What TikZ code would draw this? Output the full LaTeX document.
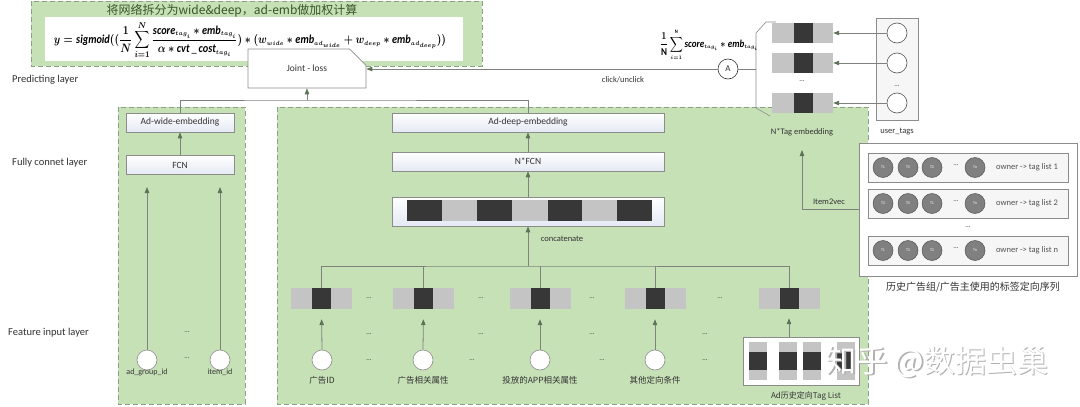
\documentclass[tikz,border=0pt]{standalone}
\usepackage{fontspec}
\setmainfont{Carlito}
\newfontfamily\cjk{Noto Sans CJK SC}
\usepackage{amsmath}
\usepackage{graphicx}
\usetikzlibrary{arrows.meta,shapes.misc,calc}
\definecolor{pgreen}{RGB}{199,225,183}
\definecolor{pborder}{RGB}{140,160,130}
\definecolor{boxgray}{RGB}{140,140,140}
\definecolor{boxbot}{RGB}{228,233,243}
\definecolor{lgray}{RGB}{196,196,196}
\definecolor{dgray}{RGB}{55,55,55}
\definecolor{linec}{RGB}{125,130,125}
\definecolor{arrowc}{RGB}{95,115,90}
\definecolor{txt}{RGB}{50,50,50}
\definecolor{ttitle}{RGB}{55,85,40}
\definecolor{tfill}{RGB}{128,128,128}
\definecolor{tdraw}{RGB}{85,85,85}
\definecolor{ubox}{RGB}{246,246,246}
\newcommand{\ssub}[1]{{\scriptscriptstyle #1}}
\tikzset{
  panel/.style={draw=pborder, fill=pgreen, dash pattern=on 5pt off 3pt, line width=0.9pt},
  wbox/.style={draw=boxgray, top color=white, bottom color=boxbot, inner sep=0pt, font=\fontsize{9.5}{11}\selectfont, text=txt, line width=0.6pt},
  conn/.style={draw=linec, line width=0.8pt},
  arr/.style={conn, -{Triangle[length=6pt,width=4.5pt,color=arrowc]}},
  wcirc/.style={circle, draw=boxgray, fill=white, minimum size=20pt, inner sep=0pt, line width=0.6pt},
  tcirc/.style={circle, draw=tdraw, fill=tfill, minimum size=20pt, inner sep=0pt, font=\fontsize{4}{4}\selectfont, text=white, line width=0.5pt},
  lbar/.style={fill=lgray, minimum width=61pt, minimum height=21pt, inner sep=0pt},
  dseg/.style={fill=dgray, minimum width=19pt, minimum height=21pt, inner sep=0pt},
  lab/.style={font=\fontsize{9}{10}\selectfont, text=txt, inner sep=1pt},
  clab/.style={font=\cjk\fontsize{8.5}{10}\selectfont, text=txt, inner sep=1pt},
  dots/.style={font=\fontsize{7}{7}\selectfont, text=txt, inner sep=0pt},
  layer/.style={font=\fontsize{10.5}{12}\selectfont, text=txt, anchor=west, inner sep=0pt}
}
\begin{document}
\begin{tikzpicture}[x=1pt,y=-1pt]
\useasboundingbox (0,0) rectangle (1080,407);
\fill[white] (0,0) rectangle (1080,407);

% ---------- panels ----------
\draw[panel] (31,1) rectangle (482,66);
\draw[panel] (118,107) rectangle (245,404);
\draw[panel] (277,107) rectangle (868,404);

% ---------- formula panel ----------
\node[font=\cjk\fontsize{12}{14}\selectfont, text=ttitle, inner sep=0pt] (title) at (232,11) {将网络拆分为wide\&deep，ad-emb做加权计算};
\node[fill=white, minimum width=418pt, minimum height=44pt, inner sep=0pt] (fbox) at (254,39) {};
\node[inner sep=0pt] (formula) at (250,40) {\resizebox*{392pt}{38pt}{\boldmath$\displaystyle y=\mathit{sigmoid}((\frac{1}{N}\sum_{i=1}^{N}\frac{\mathit{score}_{\ssub{tag_i}}*\mathit{emb}_{\ssub{tag_i}}}{\alpha*\mathit{cvt}\,\_\,\mathit{cost}_{\ssub{tag_i}}})*(w_{\ssub{wide}}*\mathit{emb}_{\ssub{ad_{wide}}}+w_{\ssub{deep}}*\mathit{emb}_{\ssub{ad_{deep}}}))$}};

% ---------- layer labels ----------
\node[layer] (lp) at (12,80) {Predicting layer};
\node[layer] (lf) at (12,163) {Fully connet layer};
\node[layer] (li) at (8,333) {Feature input layer};

% ---------- joint loss ----------
\node[chamfered rectangle, chamfered rectangle corners=north east, chamfered rectangle xsep=13pt, chamfered rectangle ysep=13pt,
      draw=boxgray, fill=white, minimum width=118pt, minimum height=39pt, inner sep=0pt, line width=0.6pt,
      font=\fontsize{9.5}{11}\selectfont, text=txt] (joint) at (307,68.5) {Joint - loss};

% ---------- wide part ----------
\node[wbox, minimum width=108pt, minimum height=19pt] (wemb) at (180,122.5) {Ad-wide-embedding};
\node[wbox, minimum width=108pt, minimum height=19pt] (wfcn) at (180,165) {FCN};
\draw[arr] (wfcn.north) -- (wemb.south);
\node[wcirc] (agid) at (147,360) {};
\node[wcirc] (itid) at (220,360) {};
\node[font=\fontsize{8}{9}\selectfont, text=txt, inner sep=0pt] (agidl) at (147,372) {ad\_group\_id};
\node[font=\fontsize{8}{9}\selectfont, text=txt, inner sep=0pt] (itidl) at (220,372) {item\_id};
\coordinate (wtop1) at (147,187);
\coordinate (wtop2) at (220,187);
\draw[arr] (agid.north) -- (wtop1);
\draw[arr] (itid.north) -- (wtop2);
\node[dots] (wd1) at (187,332) {...};
\node[dots] (wd2) at (187,358) {...};

% ---------- deep part ----------
\node[wbox, minimum width=272pt, minimum height=19pt] (demb) at (528,122.5) {Ad-deep-embedding};
\node[wbox, minimum width=272pt, minimum height=19pt] (dfcn) at (528,161.5) {N*FCN};
\node[wbox, minimum width=272pt, minimum height=29pt] (concat) at (528,211.5) {};
\foreach \xa/\xb/\c in {407/442/dgray,442/477/lgray,477/512/dgray,512/548/lgray,548/582/dgray,582/617/lgray,617/652/dgray}
  \fill[\c] (\xa,200) rectangle (\xb,221);
\draw[arr] (dfcn.north) -- (demb.south);
\draw[arr] (concat.north) -- (dfcn.south);
\node[lab, font=\fontsize{8.5}{10}\selectfont] (catl) at (562,239) {concatenate};

% top bus to joint loss
\coordinate (tb) at (307,100);
\draw[conn] (wemb.north) |- (tb) -| (demb.north);
\draw[arr] (tb) -- (joint.south);

% feature bars
\foreach \n/\x in {1/321.5,2/423.5,3/540,4/655,5/789}{
  \node[lbar] (fb\n) at (\x,298.5) {};
  \node[dseg] (fd\n) at (\x,298.5) {};
}
\coordinate (bus) at (528,266);
\draw[conn] (fd1.north) |- (bus) -| (fd5.north);
\foreach \n in {2,3,4} \draw[conn] (fd\n.north) -- (fd\n.north |- bus);
\draw[arr] (bus) -- (concat.south);
\foreach \x in {369,481,592,720} \node[dots] at (\x,298) {...};

% feature inputs
\foreach \n/\x/\t in {1/322/广告ID,2/423/广告相关属性,3/540/投放的APP相关属性,4/655/其他定向条件}{
  \node[wcirc] (fi\n) at (\x,360) {};
  \node[clab] (fl\n) at (\x,380) {\t};
  \draw[arr, shorten >=10pt] (fi\n.north) -- (fd\n.south);
}
\foreach \x in {369,481,592,705} \node[dots] at (\x,334) {...};
\foreach \x in {369,472,602,705} \node[dots] at (\x,360) {...};

% ad history tag list
\node[draw=boxgray, fill=white, minimum width=116pt, minimum height=48pt, inner sep=0pt, line width=0.6pt] (ah) at (801,361) {};
\foreach \x in {758,787.5,812,845.5}{
  \fill[lgray] (\x-9,342) rectangle (\x+9,380);
  \fill[dgray] (\x-9,352) rectangle (\x+9,370);
}
\node[clab, font=\cjk\fontsize{8}{10}\selectfont] (ahl) at (806,396) {Ad历史定向Tag List};
\draw[arr, shorten >=9pt] (ah.north -| fd5) -- (fd5.south);

% ---------- tag embedding + user tags ----------
\draw[draw=boxgray, line width=0.6pt] (776,22) -- (766,22) -- (756,33) -- (756,108) -- (770,116);
\coordinate (tagL) at (756,69);
\foreach \n/\y in {1/33,2/63,3/103}{
  \node[lbar, minimum height=20pt] (tb\n) at (802.5,\y) {};
  \node[dseg, minimum height=20pt] (td\n) at (803,\y) {};
}
\node[dots] (tdots) at (802,81) {...};
\node[lab, font=\fontsize{8.5}{10}\selectfont] (tgl) at (802,132) {N*Tag embedding};

\node[draw=boxgray, fill=ubox, minimum width=42pt, minimum height=102pt, inner sep=0pt, line width=0.6pt] (ubx) at (897,69) {};
\foreach \n/\y in {1/33,2/63,3/103}{
  \node[wcirc, draw=tdraw] (ut\n) at (897,\y) {};
  \draw[arr] (ut\n.west) -- (tb\n.east);
}
\node[dots] (udots) at (897,86) {...};
\node[lab, font=\fontsize{8.5}{10}\selectfont] (utl) at (897,132) {user\_tags};

% sum formula and click line
\node[inner sep=0pt] (sumf) at (709,45) {\resizebox*{98pt}{31pt}{\boldmath$\displaystyle \frac{1}{\mathrm{N}}\sum_{\ssub{i=1}}^{\ssub{\mathrm{N}}}\mathit{score}_{\ssub{tag_i}}*\mathit{emb}_{\ssub{tag_i}}$}};
\node[circle, draw=txt, fill=white, minimum size=20pt, inner sep=0pt, line width=0.6pt, font=\fontsize{9}{9}\selectfont, text=txt] (A) at (728,69) {A};
\draw[conn] (A.east) -- (tagL);
\draw[arr] (A.west) -- (A.west -| joint.east);
\node[lab, font=\fontsize{8.5}{10}\selectfont] (clk) at (623,80) {click/unclick};

% ---------- right panel ----------
\node[draw=boxgray, fill=white, minimum width=218pt, minimum height=133pt, inner sep=0pt, line width=0.6pt] (rp) at (968,209.5) {};
\foreach \n/\y/\la/\lb/\lc/\e in {1/167.5/T1/T5/T2/1,2/203.5/T3/T5/T1/2,3/250.5/T1/T3/T2/n}{
  \node[draw=boxgray, fill=ubox, minimum width=200pt, minimum height=29pt, inner sep=0pt, line width=0.6pt] (row\n) at (968,\y) {};
  \node[tcirc] (c\n a) at (883,\y) {\la};
  \node[tcirc] (c\n b) at (908,\y) {\lb};
  \node[tcirc] (c\n c) at (932,\y) {\lc};
  \node[dots] (c\n d) at (956,\y-2) {...};
  \node[tcirc] (c\n e) at (975,\y) {Tn};
  \node[lab, font=\fontsize{8.5}{10}\selectfont, text=txt!85] (ol\n) at (1027,\y) {owner -> tag list \e};
}
\node[dots] (rdots) at (968,227) {...};
\node[clab, font=\cjk\fontsize{10}{12}\selectfont] (rcap) at (973,287) {历史广告组/广告主使用的标签定向序列};
\coordinate (i2v) at (802,150);
\draw[arr] (rp.west) -| (i2v);
\node[lab, font=\fontsize{8.5}{10}\selectfont] (i2vl) at (829,202) {Item2vec};

% ---------- watermark ----------
\node[font=\cjk\fontsize{31}{33}\selectfont, text=gray!60, inner sep=0pt] (wm0) at (938.2,363.2) {知乎 @数据虫巢};
\node[font=\cjk\fontsize{31}{33}\selectfont, text=white, inner sep=0pt] (wm) at (937,362) {知乎 @数据虫巢};
\end{tikzpicture}
\end{document}
